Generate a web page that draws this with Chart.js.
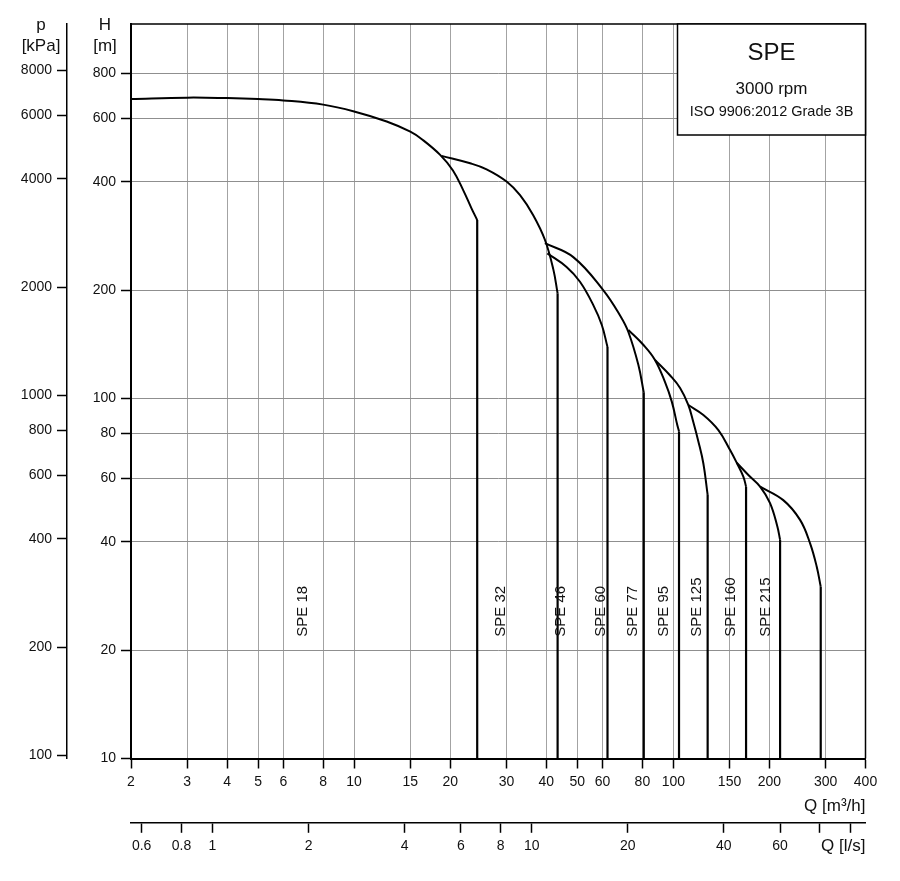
<!DOCTYPE html>
<html>
<head>
<meta charset="utf-8">
<script src="https://cdn.jsdelivr.net/npm/chart.js@4.4.1/dist/chart.umd.min.js"></script>
<style>
  html, body { margin: 0; padding: 0; background: #fff; }
</style>
</head>
<body>
<canvas id="chart" width="900" height="881"></canvas>
<script>
// Kennlinien SPE, 3000 rpm - Q in m3/h, H in m
const models = ['SPE 18', 'SPE 32', 'SPE 46', 'SPE 60', 'SPE 77', 'SPE 95', 'SPE 125', 'SPE 160', 'SPE 215'];

const spe18Q = [2, 3, 4, 5, 6, 8, 10, 12.65, 15, 16.3, 18.6, 20.4, 22.0, 23.3, 24.3];
const spe18H = [679, 685, 683, 679, 673, 655, 627, 588, 551, 525, 475, 430, 378, 338, 313];
const spe32Q = [18.8, 23.1, 26.0, 30.1, 33.1, 36.4, 39.6, 42.1, 43.4];
const spe32H = [472, 450, 433, 400, 367, 323, 276, 228, 196];
const spe46Q = [40.3, 46.3, 51.0, 56.1, 59.7, 62.2];
const spe46H = [253, 232, 211, 182, 160, 139];
const spe60Q = [39.6, 48.6, 60.3, 68.1, 72.3, 77.7, 80.8];
const spe60H = [270, 247, 200, 170, 153, 124, 104];
const spe77Q = [72.3, 80.5, 87.6, 94.2, 98.9, 102.9, 104.2];
const spe77H = [155, 141, 128, 111, 98, 84.4, 81];
const spe95Q = [87.6, 97.6, 105, 111.4, 115.5, 119.8, 124.2, 128.1];
const spe95H = [128, 116, 107, 96, 86, 76, 66, 54];
const spe125Q = [111.4, 124.2, 138.4, 150.6, 158, 165.7, 169];
const spe125H = [95.9, 90, 81.7, 71.9, 66.3, 60.7, 56.9];
const spe160Q = [158, 171.8, 187, 200.9, 211.8, 216];
const spe160H = [66.3, 61.3, 56.9, 51.2, 44.1, 40.5];
const spe215Q = [187, 221, 249.5, 268.2, 281.4, 289.6];
const spe215H = [56.9, 52.2, 46.0, 39.6, 34.1, 30.0];

// wo die Typbezeichnung steht (Q in m3/h)
const labelQ = [6.9, 28.8, 44.4, 59.2, 74.8, 93.3, 118.8, 151, 194.5];
const labelH = 21.8;

// Achsen
const qTicks = [2, 3, 4, 5, 6, 8, 10, 15, 20, 30, 40, 50, 60, 80, 100, 150, 200, 300, 400];
const lsTicks = [0.6, 0.8, 1, 2, 4, 6, 8, 10, 20, 40, 60, 80, 100];
const hTicks = [10, 20, 40, 60, 80, 100, 200, 400, 600, 800];
const pTicks = [100, 200, 400, 600, 800, 1000, 2000, 4000, 6000, 8000];
const qMin = 2, qMax = 400;
const hMin = 10, hMax = 1097;
const kPaPerM = 9.81;
const lsPerM3h = 1 / 3.6;

const curves = [
  [spe18Q, spe18H], [spe32Q, spe32H], [spe46Q, spe46H], [spe60Q, spe60H], [spe77Q, spe77H],
  [spe95Q, spe95H], [spe125Q, spe125H], [spe160Q, spe160H], [spe215Q, spe215H]
];

const datasets = [];
curves.forEach(([q, h], i) => {
  datasets.push({
    label: models[i],
    data: q.map((v, j) => ({ x: v, y: h[j] })),
    showLine: true,
    tension: 0.4,
    borderColor: '#000',
    borderWidth: 2,
    pointRadius: 0
  });
  // senkrechter Abfall am Ende der Kurve
  const last = q.length - 1;
  datasets.push({
    label: models[i] + ' max',
    data: [{ x: q[last], y: h[last] }, { x: q[last], y: hMin }],
    showLine: true,
    tension: 0,
    borderColor: '#000',
    borderWidth: 2.2,
    pointRadius: 0
  });
});

Chart.defaults.font.family = "'Liberation Sans', Arial, sans-serif";
Chart.defaults.color = '#111';

const gridGray = '#a3a3a3';

function fixedTicks(list) {
  return function (scale) { scale.ticks = list.map(v => ({ value: v })); };
}

const decor = {
  id: 'decor',
  afterDatasetsDraw(chart) {
    const ctx = chart.ctx;
    const xs = chart.scales.x, ys = chart.scales.y;
    ctx.save();
    ctx.fillStyle = '#111';
    ctx.font = "15px 'Liberation Sans', Arial, sans-serif";
    ctx.textAlign = 'left';
    ctx.textBaseline = 'middle';
    const yPix = ys.getPixelForValue(labelH);
    models.forEach((m, i) => {
      ctx.save();
      ctx.translate(xs.getPixelForValue(labelQ[i]), yPix);
      ctx.rotate(-Math.PI / 2);
      ctx.fillText(m, 0, 0);
      ctx.restore();
    });
    ctx.restore();
  },
  afterDraw(chart) {
    const ctx = chart.ctx;
    const a = chart.chartArea;
    ctx.save();
    // Rahmen oben und rechts
    ctx.strokeStyle = '#000';
    ctx.lineWidth = 1.5;
    ctx.beginPath();
    ctx.moveTo(a.left, a.top);
    ctx.lineTo(a.right, a.top);
    ctx.lineTo(a.right, a.bottom);
    ctx.stroke();

    // Kasten oben rechts
    const bx = a.right - 188, by = a.top, bw = 188, bh = 111;
    ctx.fillStyle = '#fff';
    ctx.fillRect(bx, by, bw, bh);
    ctx.strokeRect(bx, by, bw, bh);
    ctx.fillStyle = '#111';
    ctx.textAlign = 'center';
    ctx.textBaseline = 'alphabetic';
    const cx = bx + bw / 2;
    ctx.font = "24px 'Liberation Sans', Arial, sans-serif";
    ctx.fillText('SPE', cx, by + 36);
    ctx.font = "17px 'Liberation Sans', Arial, sans-serif";
    ctx.fillText('3000 rpm', cx, by + 69.5);
    ctx.font = "14.5px 'Liberation Sans', Arial, sans-serif";
    ctx.fillText('ISO 9906:2012 Grade 3B', cx, by + 92);

    // Achsentitel
    ctx.font = "17px 'Liberation Sans', Arial, sans-serif";
    ctx.fillText('p', 41, 30);
    ctx.fillText('[kPa]', 41, 51);
    ctx.fillText('H', 105, 30);
    ctx.fillText('[m]', 105, 51);
    ctx.textAlign = 'right';
    ctx.fillText('Q [m\u00B3/h]', a.right, 811);
    ctx.fillText('Q [l/s]', a.right, 851);
    ctx.restore();
  }
};

new Chart(document.getElementById('chart'), {
  type: 'scatter',
  data: { datasets: datasets },
  options: {
    responsive: false,
    animation: false,
    layout: { padding: { top: 24, right: 34.5, left: 0, bottom: 0 } },
    plugins: { legend: { display: false }, tooltip: { enabled: false } },
    scales: {
      x: {
        type: 'logarithmic', position: 'bottom', weight: 0,
        min: qMin, max: qMax,
        afterBuildTicks: fixedTicks(qTicks),
        afterFit: s => { s.height = 64.3; },
        grid: { color: gridGray, lineWidth: 1, tickLength: 10, tickColor: '#000', tickWidth: 1.5 },
        border: { display: true, color: '#000', width: 2 },
        ticks: { autoSkip: false, maxRotation: 0, padding: 5, font: { size: 14 }, callback: v => String(v) }
      },
      ls: {
        type: 'logarithmic', position: 'bottom', weight: 1,
        min: qMin * lsPerM3h, max: qMax * lsPerM3h,
        afterBuildTicks: fixedTicks(lsTicks),
        afterFit: s => { s.height = 58.2; },
        grid: { drawOnChartArea: false, tickLength: 10, tickColor: '#000', tickWidth: 1.5 },
        border: { display: true, color: '#000', width: 1.5 },
        ticks: { autoSkip: false, maxRotation: 0, padding: 5, font: { size: 14 },
                 callback: v => (v >= 80 ? '' : String(v)) }
      },
      y: {
        type: 'logarithmic', position: 'left', weight: 0,
        min: hMin, max: hMax,
        afterBuildTicks: fixedTicks(hTicks),
        afterFit: s => { s.width = 64; },
        grid: { color: '#8f8f8f', lineWidth: 1, tickLength: 10, tickColor: '#000', tickWidth: 1.5 },
        border: { display: true, color: '#000', width: 2 },
        ticks: { autoSkip: false, padding: 5, font: { size: 14 }, callback: v => String(v) }
      },
      p: {
        type: 'logarithmic', position: 'left', weight: 1,
        min: hMin * kPaPerM, max: hMax * kPaPerM,
        afterBuildTicks: fixedTicks(pTicks),
        afterFit: s => { s.width = 67; },
        grid: { drawOnChartArea: false, tickLength: 10, tickColor: '#000', tickWidth: 1.5 },
        border: { display: true, color: '#000', width: 1.5 },
        ticks: { autoSkip: false, padding: 5, font: { size: 14 }, callback: v => String(v) }
      }
    }
  },
  plugins: [decor]
});
</script>
</body>
</html>
